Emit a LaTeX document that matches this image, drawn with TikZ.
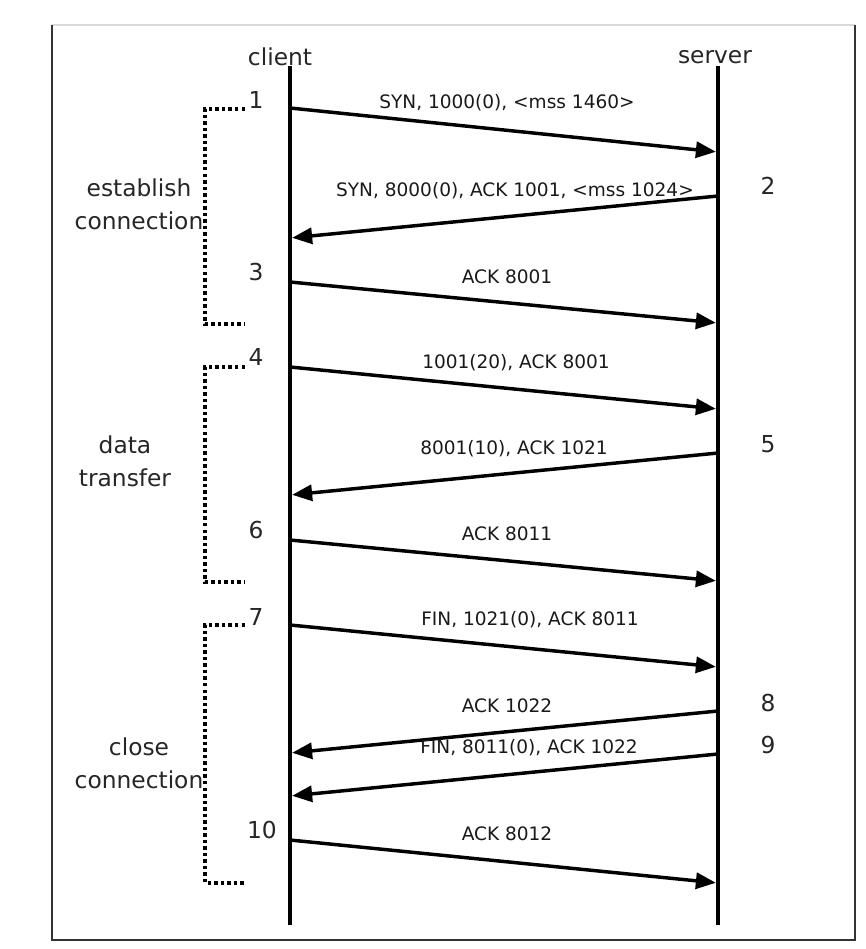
\documentclass[tikz,border=0pt]{standalone}
\usepackage{fontspec}
\setmainfont{DejaVu Sans}
\usetikzlibrary{arrows.meta}
\begin{document}
\begin{tikzpicture}[x=0.75pt,y=-0.75pt,
  msg/.style={line width=2.6pt, -{Triangle[length=15pt,width=12pt]}, shorten >=1.6pt},
  lifeline/.style={line width=2.8pt},
  grp/.style={line width=2.8pt, dash pattern=on 2.6pt off 2.3pt},
  msglabel/.style={font=\fontsize{13.9}{16}\selectfont, inner sep=0pt, text=black!90},
  biglabel/.style={font=\fontsize{17.5}{24.75}\selectfont, inner sep=0pt, text=black!85, align=center},
  frameline/.style={line width=1.6pt, black!80},
]
\useasboundingbox (0,0) rectangle (865,949);
% frame
\draw[line width=1pt, black!15] (52,25) -- (855,25);
\draw[frameline] (52,25) -- (52,940) -- (855,940) -- (855,25);

% lifelines
\node[biglabel] (client) at (280,57) {client};
\node[biglabel] (server) at (715,57) {server};
\coordinate (ctop) at (290,66);
\coordinate (cbot) at (290,925);
\coordinate (stop) at (718,66);
\coordinate (sbot) at (718,925);
\draw[lifeline] (ctop) -- (cbot);
\draw[lifeline] (stop) -- (sbot);

% endpoints
\coordinate (c1) at (290,108);  \coordinate (s1) at (718,152);
\coordinate (s2) at (718,196);  \coordinate (c2) at (290,238);
\coordinate (c3) at (290,282);  \coordinate (s3) at (718,323);
\coordinate (c4) at (290,367);  \coordinate (s4) at (718,409);
\coordinate (s5) at (718,453);  \coordinate (c5) at (290,495);
\coordinate (c6) at (290,540);  \coordinate (s6) at (718,581);
\coordinate (c7) at (290,625);  \coordinate (s7) at (718,667);
\coordinate (s8) at (718,711);  \coordinate (c8) at (290,753);
\coordinate (s9) at (718,754);  \coordinate (c9) at (290,796);
\coordinate (c10) at (290,840); \coordinate (s10) at (718,883);

% messages
\draw[msg] (c1) -- (s1);
\draw[msg] (s2) -- (c2);
\draw[msg] (c3) -- (s3);
\draw[msg] (c4) -- (s4);
\draw[msg] (s5) -- (c5);
\draw[msg] (c6) -- (s6);
\draw[msg] (c7) -- (s7);
\draw[msg] (s8) -- (c8);
\draw[msg] (s9) -- (c9);
\draw[msg] (c10) -- (s10);

% message labels
\node[msglabel] (m1) at (507,103) {SYN, 1000(0), <mss 1460>};
\node[msglabel] (m2) at (515,191) {SYN, 8000(0), ACK 1001, <mss 1024>};
\node[msglabel] (m3) at (507,277) {ACK 8001};
\node[msglabel] (m4) at (516,363) {1001(20), ACK 8001};
\node[msglabel] (m5) at (514,449) {8001(10), ACK 1021};
\node[msglabel] (m6) at (507,534) {ACK 8011};
\node[msglabel] (m7) at (530,620) {FIN, 1021(0), ACK 8011};
\node[msglabel] (m8) at (507,706) {ACK 1022};
\node[msglabel] (m9) at (529,748) {FIN, 8011(0), ACK 1022};
\node[msglabel] (m10) at (507,834) {ACK 8012};

% step numbers
\node[biglabel] (n1) at (256,100) {1};
\node[biglabel] (n2) at (768,186) {2};
\node[biglabel] (n3) at (256,272) {3};
\node[biglabel] (n4) at (256,357) {4};
\node[biglabel] (n5) at (768,444) {5};
\node[biglabel] (n6) at (256,530) {6};
\node[biglabel] (n7) at (256,617) {7};
\node[biglabel] (n8) at (768,703) {8};
\node[biglabel] (n9) at (768,745) {9};
\node[biglabel] (n10) at (262,830) {10};

% group brackets
\coordinate (g1a) at (245,109); \coordinate (g1b) at (245,324);
\coordinate (g2a) at (245,367); \coordinate (g2b) at (245,582);
\coordinate (g3a) at (245,625); \coordinate (g3b) at (245,883);
\draw[grp] (g1a) -- ++(-40,0) |- (g1b);
\draw[grp] (g2a) -- ++(-40,0) |- (g2b);
\draw[grp] (g3a) -- ++(-40,0) |- (g3b);

\node[biglabel] (grp1) at (139,204) {establish\\connection};
\node[biglabel] (grp2) at (125,461) {data\\transfer};
\node[biglabel] (grp3) at (139,763) {close\\connection};
\end{tikzpicture}
\end{document}
